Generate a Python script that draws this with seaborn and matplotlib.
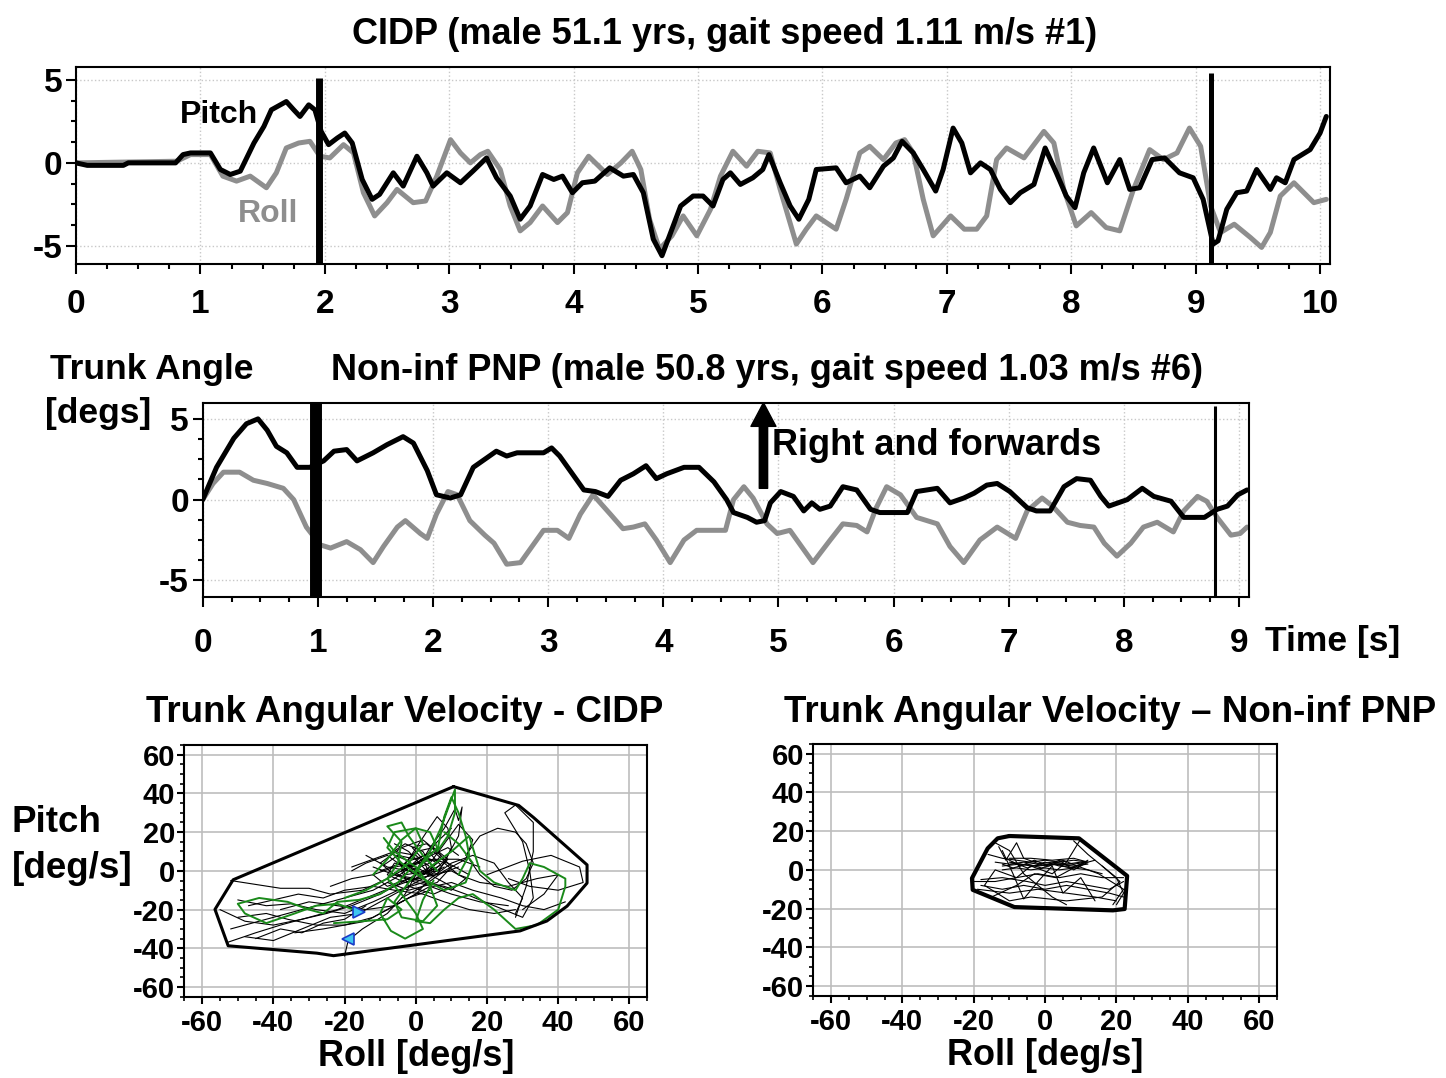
"""
Trunk angle traces and angular-velocity tangles, CIDP vs non-inf PNP.
"""
import numpy as np
import pandas as pd
import matplotlib; matplotlib.use('Agg')
import matplotlib.pyplot as plt
import seaborn as sns
from matplotlib.ticker import MultipleLocator

# ---- top trace: CIDP, time [s] / angle [deg]
cidp_pitch_t = [0, 0.09, 0.38, 0.42, 0.8, 0.86, 0.92, 1.08, 1.16, 1.24, 1.32, 1.43, 1.51, 1.57, 1.69, 1.75,
                1.80, 1.87, 1.92, 1.97, 2.03, 2.10, 2.16, 2.22, 2.30, 2.38, 2.44, 2.55, 2.63, 2.74, 2.82, 2.87,
                2.98, 3.09, 3.19, 3.30, 3.38, 3.45, 3.49, 3.57, 3.65, 3.75, 3.84, 3.91, 3.99, 4.07, 4.17, 4.29,
                4.40, 4.48, 4.56, 4.64, 4.71, 4.78, 4.86, 4.96, 5.04, 5.12, 5.20, 5.26, 5.34, 5.44, 5.52, 5.57,
                5.66, 5.74, 5.81, 5.89, 5.95, 6.11, 6.19, 6.30, 6.38, 6.49, 6.57, 6.64, 6.73, 6.81, 6.91, 6.97,
                7.05, 7.12, 7.19, 7.27, 7.35, 7.43, 7.51, 7.59, 7.70, 7.79, 7.88, 7.96, 8.03, 8.10, 8.18, 8.29,
                8.39, 8.47, 8.55, 8.65, 8.75, 8.87, 8.98, 9.06, 9.14, 9.18, 9.25, 9.33, 9.41, 9.49, 9.60, 9.65,
                9.72, 9.79, 9.92, 10.0, 10.05]
cidp_pitch_v = [0, -0.15, -0.15, 0, 0, 0.5, 0.6, 0.6, -0.4, -0.7, -0.5, 1.2, 2.2, 3.2, 3.7, 3.2,
                2.8, 3.5, 3.2, 1.9, 1.1, 1.5, 1.8, 1.2, -1.0, -2.2, -1.9, -0.6, -1.4, 0.4, -0.6, -1.4,
                -0.6, -1.2, -0.5, 0.3, -0.9, -1.6, -2.0, -3.4, -2.6, -0.7, -1.0, -0.8, -1.8, -1.2, -1.1, -0.3,
                -0.8, -0.7, -1.8, -4.6, -5.6, -4.2, -2.6, -2.0, -2.0, -2.6, -1.0, -0.6, -1.3, -0.9, -0.4, 0.5,
                -1.2, -2.6, -3.4, -2.2, -0.4, -0.3, -1.2, -0.8, -1.5, -0.2, 0.3, 1.3, 0.6, -0.4, -1.7, -0.4,
                2.1, 1.2, -0.6, 0.0, -0.4, -1.6, -2.4, -1.8, -1.3, 0.9, -0.6, -2.0, -2.7, -0.6, 0.9, -1.2,
                0.2, -1.6, -1.5, 0.2, 0.3, -0.6, -0.9, -2.2, -4.9, -4.7, -2.8, -1.8, -1.7, -0.4, -1.6, -0.9,
                -1.2, 0.2, 0.8, 1.8, 2.8]
cidp_roll_t = [0, 0.81, 0.92, 1.08, 1.18, 1.29, 1.40, 1.53, 1.61, 1.69, 1.79, 1.88, 1.96, 2.04, 2.15, 2.23,
               2.31, 2.40, 2.50, 2.58, 2.71, 2.81, 2.90, 3.01, 3.09, 3.17, 3.25, 3.31, 3.41, 3.49, 3.57, 3.65,
               3.75, 3.87, 3.95, 4.03, 4.12, 4.27, 4.38, 4.47, 4.54, 4.61, 4.69, 4.79, 4.88, 4.99, 5.10, 5.18,
               5.28, 5.39, 5.48, 5.58, 5.66, 5.79, 5.87, 5.95, 6.11, 6.19, 6.30, 6.38, 6.49, 6.59, 6.66, 6.73,
               6.81, 6.89, 7.03, 7.14, 7.24, 7.32, 7.40, 7.48, 7.62, 7.78, 7.86, 7.94, 8.04, 8.16, 8.28, 8.39,
               8.50, 8.63, 8.74, 8.85, 8.95, 9.04, 9.12, 9.20, 9.31, 9.44, 9.53, 9.60, 9.68, 9.79, 9.95, 10.05]
cidp_roll_v = [0, 0.1, 0.5, 0.5, -0.8, -1.1, -0.8, -1.5, -0.6, 0.9, 1.2, 1.3, 0.4, 0.3, 1.1, 0.6,
               -1.8, -3.2, -2.4, -1.6, -2.4, -2.3, -0.8, 1.4, 0.6, 0.0, 0.5, 0.7, -0.4, -2.6, -4.1, -3.6,
               -2.6, -3.6, -3.0, -0.6, 0.4, -0.7, 0.0, 0.7, -0.4, -3.4, -5.2, -4.4, -3.2, -4.4, -2.8, -0.8,
               0.7, -0.2, 0.7, 0.6, -1.6, -4.9, -4.0, -3.2, -4.0, -2.2, 0.6, 1.0, 0.2, 1.2, 1.4, 0.6,
               -2.2, -4.4, -3.2, -4.0, -4.0, -3.2, 0.2, 0.9, 0.3, 1.9, 1.2, -1.6, -3.8, -3.0, -3.9, -4.1,
               -1.6, 0.8, 0.2, 0.6, 2.1, 1.0, -2.6, -4.2, -3.7, -4.5, -5.1, -4.2, -2.0, -1.2, -2.4, -2.2]
cidp_events = [1.955, 9.12]
cidp_event_tops = [5.15, 5.45]

# ---- middle trace: non-inf PNP
pnp_pitch_t = [0, 0.12, 0.27, 0.38, 0.48, 0.56, 0.64, 0.73, 0.82, 0.93, 1.05, 1.14, 1.25, 1.34, 1.48, 1.60,
               1.74, 1.83, 1.95, 2.03, 2.15, 2.24, 2.35, 2.47, 2.55, 2.64, 2.73, 2.96, 3.03, 3.10, 3.31, 3.41,
               3.52, 3.63, 3.74, 3.85, 3.94, 4.03, 4.18, 4.31, 4.44, 4.55, 4.61, 4.73, 4.81, 4.88, 4.93, 5.02,
               5.13, 5.22, 5.29, 5.36, 5.45, 5.56, 5.68, 5.80, 5.88, 6.12, 6.20, 6.38, 6.49, 6.61, 6.70, 6.81,
               6.90, 7.01, 7.16, 7.24, 7.36, 7.48, 7.59, 7.71, 7.80, 7.87, 8.03, 8.16, 8.26, 8.41, 8.52, 8.70,
               8.81, 8.90, 8.99, 9.07]
pnp_pitch_v = [0, 2.0, 3.8, 4.7, 5.0, 4.3, 3.3, 2.9, 2.0, 2.0, 2.4, 3.0, 3.1, 2.4, 2.9, 3.4,
               3.9, 3.5, 1.8, 0.3, 0.1, 0.3, 2.0, 2.6, 3.0, 2.7, 2.9, 2.9, 3.2, 2.7, 0.6, 0.5,
               0.2, 1.2, 1.6, 2.1, 1.3, 1.6, 2.0, 2.0, 1.1, 0.0, -0.8, -1.1, -1.4, -1.3, -0.2, 0.5,
               0.2, -0.7, -0.2, -0.6, -0.4, 0.8, 0.6, -0.6, -0.8, -0.8, 0.5, 0.7, -0.2, 0.1, 0.4, 0.9,
               1.0, 0.5, -0.5, -0.7, -0.7, 0.8, 1.3, 1.2, 0.2, -0.4, 0.0, 0.7, 0.2, -0.1, -1.1, -1.1,
               -0.6, -0.4, 0.3, 0.6]
pnp_roll_t = [0, 0.09, 0.18, 0.32, 0.44, 0.56, 0.70, 0.79, 0.90, 1.02, 1.11, 1.25, 1.37, 1.48, 1.57, 1.69,
              1.76, 1.89, 1.95, 2.03, 2.13, 2.21, 2.32, 2.45, 2.53, 2.64, 2.76, 2.84, 2.96, 3.08, 3.18, 3.28,
              3.39, 3.54, 3.65, 3.74, 3.84, 3.94, 4.06, 4.18, 4.29, 4.54, 4.61, 4.70, 4.78, 4.90, 4.99, 5.10,
              5.30, 5.45, 5.56, 5.68, 5.77, 5.85, 5.94, 6.06, 6.20, 6.38, 6.49, 6.61, 6.75, 6.90, 7.06, 7.16,
              7.29, 7.38, 7.51, 7.62, 7.74, 7.83, 7.94, 8.06, 8.17, 8.29, 8.43, 8.52, 8.64, 8.72, 8.81, 8.93,
              9.01, 9.07]
pnp_roll_v = [0, 1.0, 1.7, 1.7, 1.2, 1.0, 0.7, 0.0, -1.7, -2.8, -3.0, -2.6, -3.1, -3.9, -2.9, -1.7,
              -1.3, -2.1, -2.4, -0.9, 0.5, 0.3, -1.3, -2.2, -2.7, -4.0, -3.9, -3.1, -1.9, -1.9, -2.4, -0.9,
              0.3, -0.9, -1.8, -1.7, -1.5, -2.5, -3.9, -2.5, -1.9, -1.9, 0.0, 0.8, 0.1, -1.5, -2.1, -1.9,
              -3.9, -2.5, -1.5, -1.6, -2.0, -0.5, 0.8, 0.3, -1.1, -1.5, -2.9, -3.9, -2.5, -1.7, -2.4, -0.7,
              0.1, -0.4, -1.4, -1.6, -1.7, -2.7, -3.5, -2.7, -1.7, -1.4, -2.0, -0.7, 0.2, -0.1, -1.1, -2.2,
              -2.1, -1.7]
pnp_events = [0.985, 8.79]
pnp_event_tops = [6.0, 5.8]
arrow_t, arrow_from, arrow_to = 4.87, 0.7, 6.0

# ---- angular velocity (roll, pitch) [deg/s], CIDP
cidp_hull = [(10.6, 43.5), (28.9, 33.8), (33.1, 27.5), (48.1, 3.1), (48.1, -6.3), (42.5, -18.2),
             (36.8, -25.9), (29.3, -31.0), (-23.1, -43.8), (-27.8, -42.5), (-52.7, -38.7),
             (-56.4, -19.9), (-51.3, -4.6), (10.6, 43.5)]
cidp_black = [
    [(-20, -44), (-19, -36), (-15, -30), (-8, -22), (-3, -12), (0, -2), (3, 8), (6, 15), (10, 22)],
    [(-52, -5), (-45, -7), (-38, -9), (-30, -9), (-24, -12), (-15, -10), (-8, -4), (-2, 2), (4, 6), (9, 4), (15, -2)],
    [(-55, -20), (-48, -26), (-40, -28), (-32, -25), (-25, -22), (-18, -18), (-10, -12), (-4, -6), (2, 0), (6, 4)],
    [(-53, -37), (-45, -32), (-38, -28), (-30, -24), (-22, -20), (-14, -14), (-6, -8), (0, -4), (6, -2), (12, 2)],
    [(-50, -15), (-42, -18), (-35, -17), (-28, -20), (-20, -22), (-12, -16), (-5, -10), (2, -6), (8, -8),
     (14, -12), (22, -18), (30, -24), (33, -14), (32, 0), (30, 15), (25, 30), (28, 34), (33, 25), (33, 10),
     (31, -8), (28, -24)],
    [(-9, 3), (-5, 8), (0, 6), (5, 10), (8, 5), (3, -3), (-3, -6), (-8, -2), (-6, 4), (0, 2), (6, -4),
     (10, -8), (5, -12), (-2, -8), (-4, 0), (2, 6), (9, 12), (12, 8)],
    [(-12, 2), (-6, -2), (0, -6), (5, -8), (10, -6), (16, -10), (24, -14), (30, -18), (36, -20), (42, -16)],
    [(0, 0), (4, 12), (8, 22), (11, 32), (12, 26), (13, 33), (12, 18), (9, 8), (6, -2)],
    [(14, 8), (18, 18), (23, 22), (28, 20), (31, 14), (33, 4), (31, -4), (27, -10), (22, -8), (18, -2), (15, 6)],
    [(-47, -18), (-40, -15), (-33, -12), (-26, -14), (-20, -10), (-12, -8), (-6, -10), (2, -12), (8, -16),
     (15, -20), (22, -22), (28, -20)],
    [(-45, -35), (-38, -30), (-32, -32), (-26, -27), (-20, -25), (-14, -18)],
    [(-10, 0), (-4, 4), (2, -2), (7, 3), (4, 9), (-2, 5), (-7, 9), (-3, 14), (2, 10), (5, 1), (-1, -5), (-6, -1)],
    [(20, -2), (30, 5), (38, 8), (46, 2), (47, -6), (40, -10), (32, -8), (26, -4)],
    [(-18, 2), (-12, 6), (-6, 10), (0, 8), (4, 2), (0, -4), (-6, -2), (-10, 4), (-4, 12), (2, 16), (6, 10),
     (10, 2), (6, -6), (-2, -10), (-8, -6)],
    [(-4, -14), (2, -8), (8, 0), (14, 6), (16, 16), (12, 24), (8, 14), (4, 4), (-2, 0), (-8, 8), (-14, 4), (-18, 0)],
    [(-38, -20), (-30, -16), (-22, -18), (-14, -20), (-6, -18), (0, -12), (4, -4), (10, 4), (16, 8), (22, 4),
     (26, -6), (30, -14), (28, -22)],
    [(-50, -24), (-42, -22), (-36, -25), (-28, -28), (-20, -28), (-12, -24), (-4, -16), (4, -8), (10, -12),
     (18, -16), (26, -18)],
    [(-2, 6), (3, 20), (6, 28), (9, 22), (10, 12), (8, 4), (12, -2), (18, -6), (26, -8), (34, -4), (40, -2),
     (36, -12), (30, -20)],
    [(-24, -8), (-18, -4), (-12, -2), (-6, 2), (0, 4), (6, 6), (12, 6), (18, 2)],
    [(-34, -32), (-26, -30), (-20, -28), (-14, -26), (-8, -20), (-2, -14), (4, -10)],
    [(-6, 14), (-2, 10), (1, 4), (4, -2), (2, 6), (-1, 12), (3, 14), (7, 8), (4, 0), (-3, -2), (-5, 6)],
    [(-52, -30), (-44, -26), (-36, -22), (-28, -18), (-20, -14), (-12, -10), (-6, -4), (0, 4), (4, 8)],
    [(-48, -34), (-40, -36), (-32, -30), (-24, -24), (-16, -22), (-10, -16), (-4, -10), (2, -4), (8, 2)],
    [(-2, 2), (2, 8), (6, 4), (2, -2), (-3, 4), (0, 10), (5, 12), (9, 6), (6, 0), (0, -2), (-4, 2), (-1, 8)],
    [(-14, 8), (-8, 2), (-2, 0), (4, -2), (10, 0), (14, -4), (10, -10), (4, -6), (-2, -4), (-8, -8), (-12, -2)],
]
cidp_green = [
    [(-16, -21), (-22, -17), (-28, -18), (-34, -22), (-42, -27), (-48, -22), (-50, -17), (-44, -14),
     (-36, -16), (-30, -20), (-26, -22), (-22, -16), (-16, -15), (-10, -12), (-5, -6), (-2, 0)],
    [(-23, -27), (-15, -26), (-8, -25), (-4, -20), (-8, -14), (-10, -22), (-7, -31), (-3, -35), (2, -30),
     (0, -22), (-4, -12), (-8, -4), (-5, 4), (-4, 15), (-8, 23), (-4, 25), (-2, 18), (2, 8), (6, 0)],
    [(0, 0), (4, 10), (7, 22), (9, 32), (11, 42), (11, 30), (9, 18), (6, 10), (8, 28), (10, 38), (12, 30),
     (14, 18), (15, 8), (12, -2)],
    [(5, -5), (2, -15), (0, -26), (4, -27), (8, -20), (12, -14), (16, -12), (22, -20), (28, -30), (34, -28),
     (40, -20), (42, -8), (42, -4), (36, 2), (32, 4), (30, -4), (28, -10), (22, -6), (18, 0), (16, 12),
     (15, 18), (10, 10), (4, 2)],
    [(-12, -2), (-8, 6), (-4, 16), (0, 22), (4, 20), (6, 12), (2, 4), (-2, -6), (-6, -16), (-4, -24),
     (2, -26), (6, -18), (4, -8), (0, 2), (-6, 10), (-9, 17)],
    [(-20, -14), (-14, -10), (-8, -4), (-2, 4), (2, 14), (0, 22), (-6, 20), (-8, 12), (-4, 4), (2, -4),
     (8, -10), (14, -6), (16, 4), (12, 14), (8, 20)],
]
cidp_start = (-16, -21)
cidp_end = (-19, -35)

# ---- angular velocity, non-inf PNP
pnp_hull = [(-10, 17.5), (9.5, 16.3), (23, -3.1), (22.3, -20.2), (19, -20.9), (-8.6, -19.2),
            (-20.3, -10.3), (-20.5, -4.3), (-16.1, 11.1), (-13.3, 16.3), (-10, 17.5)]
pnp_black = [
    [(-14, 4), (-10, 3), (-6, 4), (-2, 3), (2, 4), (6, 3), (10, 4), (12, 3), (8, 2), (3, 3), (-2, 2), (-7, 3), (-12, 2)],
    [(-13, 12), (-11, 5), (-8, 14), (-6, 6), (-3, 4), (0, 2), (4, 5), (8, 0), (11, 3)],
    [(-18, -5), (-12, -4), (-5, -6), (0, -8), (6, -6), (12, -8), (18, -10), (22, -6)],
    [(-19, -10), (-10, -12), (-2, -10), (6, -12), (14, -14), (20, -16)],
    [(-15, -14), (-8, -8), (-3, -2), (3, -4), (9, 2), (15, -2), (22, -10), (19, -18)],
    [(-12, 10), (-9, -2), (-6, -15), (-2, -6), (2, 2), (5, -12), (10, -4), (14, -16)],
    [(10, 16), (6, 4), (2, -2), (-4, 2), (-8, -4), (-14, 0), (-17, -8), (-10, -16), (-4, -14), (6, -16),
     (16, -14), (21, -6), (16, 2)],
    [(-10, 6), (-4, 6), (2, 5), (8, 6), (12, 4), (8, 3), (2, 3), (-4, 2), (-10, 4)],
    [(-16, 8), (-12, 6), (-8, 5), (-4, 4), (0, 5), (4, 4), (8, 5), (12, 4), (14, 5)],
    [(-12, 0), (-8, 1), (-4, 0), (0, 1), (4, 0), (8, 1), (12, 0), (16, -2)],
    [(-18, -8), (-12, -10), (-6, -8), (0, -10), (6, -8), (12, -10), (18, -12), (22, -14)],
    [(-14, 14), (-10, 10), (-8, 4), (-6, -2), (-2, -8), (2, -14), (6, -18)],
    [(8, 15), (12, 8), (16, 2), (20, -4), (22, -12), (20, -18)],
    [(-20, -6), (-14, -6), (-8, -4), (-2, -2), (4, -4), (10, -2), (16, -4), (22, -4)],
    [(-11, 6), (-7, 2), (-3, 5), (1, 2), (5, 5), (9, 2), (12, 5), (9, 1), (4, 2), (0, 4), (-5, 1), (-9, 4)],
    [(-12, 3), (-9, 1), (-5, 3), (-1, 1), (3, 3), (7, 1), (10, 3)],
]

GRAY = '#8e8e8e'
W, H = 1446, 1078


def paths_df(paths):
    rows = [(i, x, y) for i, p in enumerate(paths) for x, y in p]
    return pd.DataFrame(rows, columns=['path', 'roll', 'pitch'])


def fpos(x, y):
    return x / W, 1 - y / H


sns.set_style('ticks')
plt.rcParams['font.family'] = ['Liberation Sans', 'DejaVu Sans']
plt.rcParams['font.weight'] = 'bold'
plt.rcParams['axes.linewidth'] = 1.5
plt.rcParams['axes.unicode_minus'] = False
for k in ['text.color', 'axes.labelcolor', 'xtick.color', 'ytick.color', 'axes.edgecolor']:
    plt.rcParams[k] = 'black'

fig = plt.figure(figsize=(W / 100, H / 100), dpi=100)
ax1 = fig.add_axes([0.0526, 0.7551, 0.8672, 0.1830])
ax2 = fig.add_axes([0.1402, 0.4459, 0.7238, 0.1805])
ax3 = fig.add_axes([0.1275, 0.0754, 0.3201, 0.2335])
ax4 = fig.add_axes([0.5624, 0.0763, 0.3207, 0.2335])

# time traces
for ax, pt, pv, rt, rv in [(ax1, cidp_pitch_t, cidp_pitch_v, cidp_roll_t, cidp_roll_v),
                           (ax2, pnp_pitch_t, pnp_pitch_v, pnp_roll_t, pnp_roll_v)]:
    sns.lineplot(x=rt, y=rv, ax=ax, color=GRAY, linewidth=3.6, estimator=None, sort=False,
                 solid_joinstyle='round')
    sns.lineplot(x=pt, y=pv, ax=ax, color='k', linewidth=3.6, estimator=None, sort=False,
                 solid_joinstyle='round')
    ax.set_axisbelow(True)
    ax.grid(True, which='major', color='#c8c8c8', linestyle=':', linewidth=1)
    ax.set_yticks([-5, 0, 5])
    ax.yaxis.set_minor_locator(MultipleLocator(1.25))
    ax.xaxis.set_major_locator(MultipleLocator(1))
    ax.xaxis.set_minor_locator(MultipleLocator(0.25))
    ax.tick_params(which='major', direction='out', length=7, width=1.5, labelsize=24)
    ax.tick_params(which='minor', direction='out', length=3.5, width=1.5)
    ax.tick_params(axis='y', pad=3)
    ax.set_xlabel('')
    ax.set_ylabel('')
    for s in ax.spines.values():
        s.set_linewidth(1.5)

ax1.set_xlim(0, 10.08)
ax1.set_ylim(-6.1, 5.8)
ax1.tick_params(axis='x', pad=11)
for t, top, lw in zip(cidp_events, cidp_event_tops, [5, 3.6]):
    ax1.vlines(t, -6.1, top, color='k', linewidth=lw, clip_on=False)
ax1.text(1.15, 2.9, 'Pitch', fontsize=23, color='k', ha='center', va='center', weight='bold')
ax1.text(1.54, -3.1, 'Roll', fontsize=23, color=GRAY, ha='center', va='center', weight='bold')

ax2.set_xlim(0, 9.09)
ax2.set_ylim(-6.05, 6.0)
ax2.tick_params(axis='x', pad=15)
for t, top, lw in zip(pnp_events, pnp_event_tops, [8.6, 2.2]):
    ax2.vlines(t, -6.05, top, color='k', linewidth=lw, clip_on=False)
ax2.annotate('', xy=(arrow_t, arrow_to), xytext=(arrow_t, arrow_from),
             arrowprops=dict(arrowstyle='simple,head_length=0.85,head_width=0.9,tail_width=0.3',
                             color='k', mutation_scale=20, shrinkA=0, shrinkB=0))
ax2.text(4.94, 3.35, 'Right and forwards', fontsize=26, ha='left', va='center', weight='bold')

# angular velocity tangles
for ax, hull, black, green, hull_lw in [(ax3, cidp_hull, cidp_black, cidp_green, 2.2),
                                        (ax4, pnp_hull, pnp_black, None, 3.0)]:
    sns.lineplot(data=paths_df(black), x='roll', y='pitch', units='path', estimator=None, sort=False,
                 color='k', linewidth=0.8, ax=ax)
    if green is not None:
        sns.lineplot(data=paths_df(green), x='roll', y='pitch', units='path', estimator=None, sort=False,
                     color='#1a8a1a', linewidth=1.4, ax=ax)
    sns.lineplot(data=paths_df([hull]), x='roll', y='pitch', units='path', estimator=None, sort=False,
                 color='k', linewidth=hull_lw, ax=ax)
    ax.set_xlim(-65, 65)
    ax.set_ylim(-65, 65)
    ax.set_axisbelow(True)
    ax.grid(True, which='major', color='#bdbdbd', linestyle='-', linewidth=1.2)
    ax.xaxis.set_major_locator(MultipleLocator(20))
    ax.yaxis.set_major_locator(MultipleLocator(20))
    ax.xaxis.set_minor_locator(MultipleLocator(5))
    ax.yaxis.set_minor_locator(MultipleLocator(5))
    ax.tick_params(which='major', direction='out', length=5, width=1.5, labelsize=21)
    ax.tick_params(which='minor', direction='out', length=3, width=1.2)
    ax.tick_params(axis='x', pad=4)
    ax.tick_params(axis='y', pad=1.5)
    ax.set_xlabel('Roll [deg/s]', fontsize=26, weight='bold', labelpad=1)
    ax.set_ylabel('')
    for s in ax.spines.values():
        s.set_linewidth(1.5)

ax3.plot(*cidp_start, marker='>', markersize=8, color='#3fc6f0', markeredgecolor='#1a3cc8', mew=1.2)
ax3.plot(*cidp_end, marker='<', markersize=8, color='#3fc6f0', markeredgecolor='#1a3cc8', mew=1.2)

# titles and side labels
fig.text(*fpos(725, 35), 'CIDP (male 51.1 yrs, gait speed 1.11 m/s #1)', fontsize=26, ha='center', va='center')
fig.text(*fpos(767, 370), 'Non-inf PNP (male 50.8 yrs, gait speed 1.03 m/s #6)', fontsize=26, ha='center', va='center')
fig.text(*fpos(50, 370), 'Trunk Angle', fontsize=25.5, ha='left', va='center')
fig.text(*fpos(45, 413), '[degs]', fontsize=25.5, ha='left', va='center')
fig.text(*fpos(1265, 642), 'Time [s]', fontsize=25.5, ha='left', va='center')
fig.text(*fpos(405, 713), 'Trunk Angular Velocity - CIDP', fontsize=26.5, ha='center', va='center')
fig.text(*fpos(1110, 713), 'Trunk Angular Velocity \u2013 Non-inf PNP', fontsize=26.5, ha='center', va='center')
fig.text(*fpos(12, 823), 'Pitch', fontsize=26.5, ha='left', va='center')
fig.text(*fpos(12, 868), '[deg/s]', fontsize=26.5, ha='left', va='center')

fig.savefig('out.png', dpi=100)
